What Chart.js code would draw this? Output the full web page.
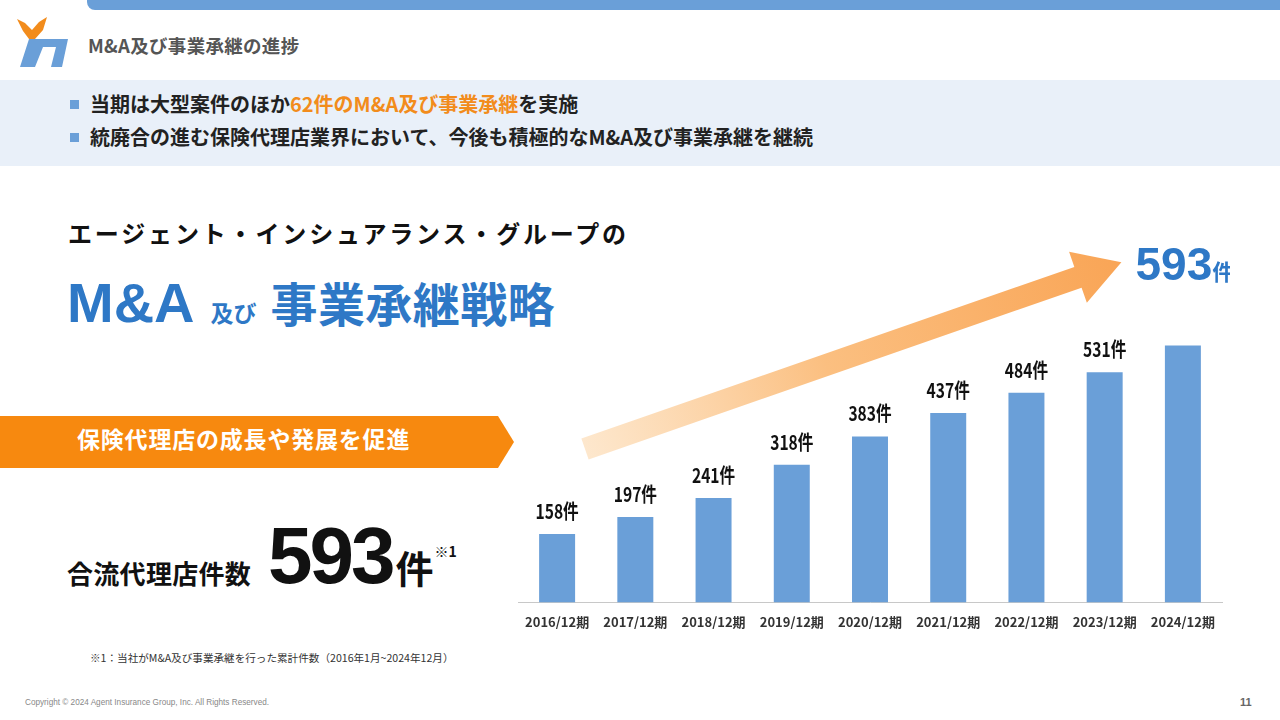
<!DOCTYPE html>
<html lang="ja">
<head>
<meta charset="utf-8">
<title>M&amp;A及び事業承継の進捗</title>
<script src="https://cdn.jsdelivr.net/npm/chart.js@4/dist/chart.umd.min.js"></script>
<style>
  html, body { margin: 0; padding: 0; }
  body { width: 1280px; height: 720px; position: relative; overflow: hidden; background: #fff;
         font-family: "Noto Sans CJK JP", "Noto Sans", sans-serif; }
  .abs { position: absolute; white-space: nowrap; }
  #topbar { left: 87px; top: 0; width: 1193px; height: 10px; background: #6a9fd8; border-bottom-left-radius: 8px; }
  #title { left: 88px; top: 36px; font-size: 18.5px; font-weight: 700; color: #555; line-height: 1; letter-spacing: 0.3px; }
  #band { left: 0; top: 80px; width: 1280px; height: 86px; background: #e9f0f9; }
  .bullet { left: 70px; font-size: 20px; font-weight: 700; color: #222; line-height: 1; }
  .bullet::before { content: ""; display: inline-block; width: 9px; height: 9px; background: #6a9fd8;
                    margin-right: 11px; vertical-align: 3px; }
  .orange { color: #f28c1c; }
  #agent { left: 68px; top: 221px; font-size: 24px; font-weight: 700; color: #111; letter-spacing: 2.85px; line-height: 1; }
  #strategy { left: 67px; top: 275px; color: #2e78c6; font-weight: 700; line-height: 1; }
  #strategy .ma { font-family: "Liberation Sans", Arial, sans-serif; font-size: 56px; }
  #strategy .oyobi { font-size: 23px; margin: 0 14px 0 16px; }
  #strategy .big { font-size: 47px; letter-spacing: 0.4px; }
  #banner { left: 0; top: 416px; }
  #bannerText { left: 77px; top: 427px; font-size: 23px; font-weight: 700; color: #fff; letter-spacing: 0.8px; line-height: 1; }
  #countLabel { left: 67px; top: 560px; font-size: 26px; font-weight: 700; color: #111; line-height: 1; letter-spacing: 0.3px; }
  #count { left: 268px; top: 516px; font-weight: 700; color: #111; line-height: 1; }
  #count .num { font-family: "Liberation Sans", Arial, sans-serif; font-size: 80px; letter-spacing: -3px; }
  #count .ken { font-size: 38px; margin-left: 3px; }
  #count sup { font-size: 14px; font-weight: 700; vertical-align: 26px; margin-left: 1px; }
  #note { left: 90px; top: 653px; font-size: 10.6px; color: #333; line-height: 1; }
  #copy { left: 25px; top: 699px; font-size: 8.2px; color: #888; font-family: "Liberation Sans", Arial, sans-serif; line-height: 1; }
  #page { left: 1240px; top: 697px; font-size: 11px; color: #666; font-family: "Liberation Sans", Arial, sans-serif; font-weight: 700; line-height: 1; }
  #arrow { left: 0; top: 0; }
  #chart { left: 510px; top: 232px; }
</style>
</head>
<body>

<div id="topbar" class="abs"></div>
<svg class="abs" style="left:0;top:0" width="80" height="80">
  <polygon points="29,39 68,39 62,67 51,67 56,47 43,47 35,67 20,67" fill="#6a9fd8"/>
  <polygon points="17,19 25,23 32,30 39,22 47,17 43,30 35,39 29,39 23,31" fill="#f28c1c"/>
</svg>
<div id="title" class="abs">M&amp;A及び事業承継の進捗</div>

<div id="band" class="abs"></div>
<div class="abs bullet" style="top:94px">当期は大型案件のほか<span class="orange">62件のM&amp;A及び事業承継</span>を実施</div>
<div class="abs bullet" style="top:127px">統廃合の進む保険代理店業界において、今後も積極的なM&amp;A及び事業承継を継続</div>

<div id="agent" class="abs">エージェント・インシュアランス・グループの</div>
<div id="strategy" class="abs"><span class="ma">M&amp;A</span><span class="oyobi">及び</span><span class="big">事業承継戦略</span></div>

<svg id="banner" class="abs" width="520" height="54">
  <polygon points="0,0 498,0 514,26 498,52 0,52" fill="#f7890f"/>
</svg>
<div id="bannerText" class="abs">保険代理店の成長や発展を促進</div>

<div id="countLabel" class="abs">合流代理店件数</div>
<div id="count" class="abs"><span class="num">593</span><span class="ken">件</span><sup>※1</sup></div>

<div id="note" class="abs">※1：当社がM&amp;A及び事業承継を行った累計件数（2016年1月~2024年12月）</div>
<div id="copy" class="abs">Copyright © 2024 Agent Insurance Group, Inc. All Rights Reserved.</div>
<div id="page" class="abs">11</div>

<svg id="arrow" class="abs" width="1280" height="720">
  <defs>
    <linearGradient id="arrowGrad" x1="0" y1="0" x2="1" y2="0">
      <stop offset="0" stop-color="#fde3c4" stop-opacity="0.85"/>
      <stop offset="0.45" stop-color="#fbbf80"/>
      <stop offset="1" stop-color="#f9a556"/>
    </linearGradient>
  </defs>
  <g transform="translate(585,449) rotate(-19.2)">
    <polygon points="0,-11 522,-11 522,-27 568,0 522,27 522,11 0,11" fill="url(#arrowGrad)"/>
  </g>
</svg>

<canvas id="chart" class="abs" width="720" height="420"></canvas>

<script>
// 期末ごとの累計件数
const periods = ["2016/12期", "2017/12期", "2018/12期", "2019/12期", "2020/12期",
                 "2021/12期", "2022/12期", "2023/12期", "2024/12期"];
const cumulativeDeals = [158, 197, 241, 318, 383, 437, 484, 531, 593];
const unit = "件";

const barBlue = "#6a9fd8";
const numFont = "'Liberation Sans Narrow', 'Noto Sans CJK JP', sans-serif";

// 棒の上に件数を書く（最終期だけ大きく青で）
const barLabels = {
    id: "barLabels",
    afterDatasetsDraw(chart) {
        const ctx = chart.ctx;
        const meta = chart.getDatasetMeta(0);
        const last = meta.data.length - 1;
        meta.data.forEach((bar, i) => {
            const value = String(chart.data.datasets[0].data[i]);
            ctx.save();
            ctx.textBaseline = "alphabetic";
            if (i === last) {
                ctx.fillStyle = "#2e78c6";
                ctx.font = "bold 46px 'Liberation Sans', Arial, sans-serif";
                const w1 = ctx.measureText(value).width;
                ctx.font = "bold 22px 'Noto Sans CJK JP', sans-serif";
                const w2 = ctx.measureText(unit).width;
                const x0 = bar.x - (w1 + w2) / 2 + 2;
                const y0 = bar.y - 66;
                ctx.font = "bold 46px 'Liberation Sans', Arial, sans-serif";
                ctx.fillText(value, x0, y0);
                ctx.font = "bold 22px 'Noto Sans CJK JP', sans-serif";
                ctx.fillText(unit, x0 + w1, y0);
            } else {
                ctx.fillStyle = "#111";
                ctx.font = "bold 20px " + numFont;
                ctx.textAlign = "center";
                ctx.translate(bar.x, bar.y - 15);
                ctx.scale(0.78, 1);
                ctx.fillText(value + unit, 0, 0);
            }
            ctx.restore();
        });
    }
};

new Chart(document.getElementById("chart"), {
    type: "bar",
    data: {
        labels: periods,
        datasets: [{
            data: cumulativeDeals,
            backgroundColor: barBlue,
            borderWidth: 0,
            categoryPercentage: 1,
            barPercentage: 0.46
        }]
    },
    options: {
        responsive: false,
        animation: false,
        layout: { padding: { left: 8, right: 8, top: 0, bottom: 10 } },
        plugins: {
            legend: { display: false },
            tooltip: { enabled: false }
        },
        scales: {
            x: {
                grid: { display: false, drawTicks: false },
                border: { display: true, color: "#c8c8c8", width: 1 },
                ticks: {
                    color: "#333",
                    padding: 12,
                    maxRotation: 0,
                    autoSkip: false,
                    font: { family: numFont, size: 13, weight: "bold" }
                }
            },
            y: {
                display: false,
                min: 0,
                max: 855
            }
        }
    },
    plugins: [barLabels]
});
</script>
</body>
</html>
